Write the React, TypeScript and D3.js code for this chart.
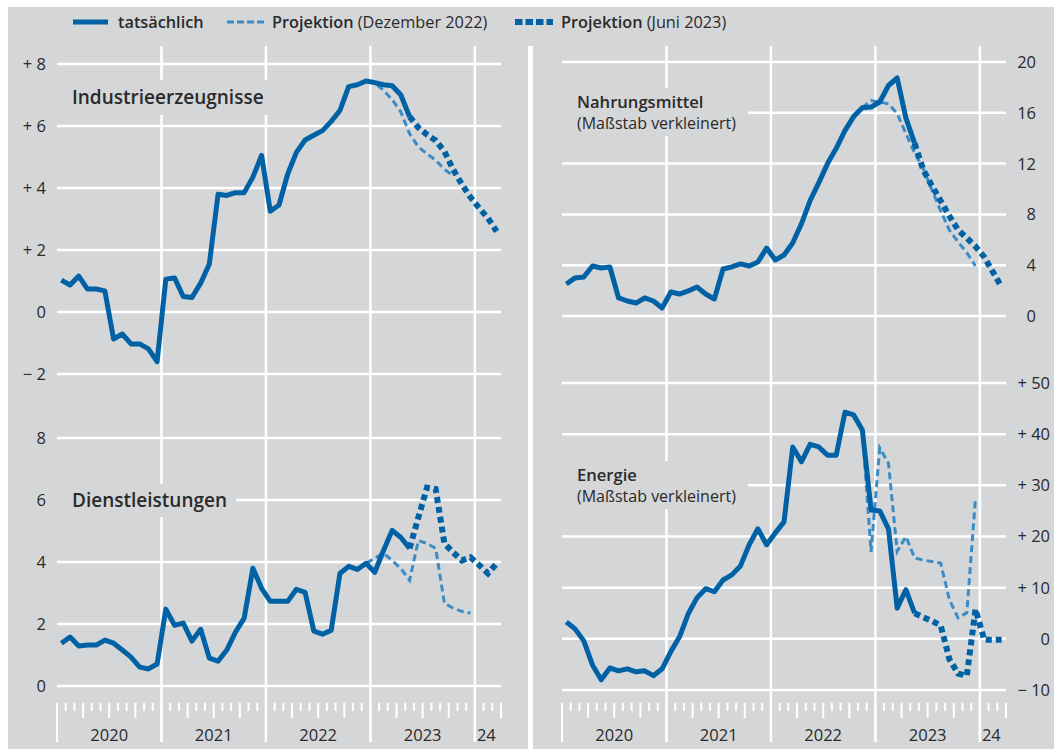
import React from "react";
import * as d3 from "d3";

// Monatswerte, Index 0 = Januar 2020, Veränderung gegenüber Vorjahr in %
const yearLabels = ["2020", "2021", "2022", "2023", "24"];

const industrieIst = [1.03, 0.87, 1.16, 0.74, 0.74, 0.68, -0.87, -0.71, -1.03, -1.03, -1.19, -1.6, 1.06, 1.1, 0.5, 0.47, 0.93, 1.55, 3.8, 3.76, 3.85, 3.85, 4.35, 5.05, 3.25, 3.45, 4.45, 5.15, 5.55, 5.7, 5.85, 6.15, 6.5, 7.27, 7.33, 7.45, 7.4, 7.33, 7.3, 7.0, 6.3];
const industrieDez22 = [7.33, 7.45, 7.4, 7.15, 6.85, 6.45, 5.75, 5.33, 5.1, 4.9, 4.6, 4.4];
const industrieJun23 = [6.3, 5.95, 5.72, 5.53, 5.18, 4.6, 4.12, 3.7, 3.35, 3.03, 2.6];

const dienstIst = [1.38, 1.58, 1.29, 1.32, 1.32, 1.48, 1.38, 1.16, 0.93, 0.61, 0.55, 0.71, 2.48, 1.96, 2.03, 1.45, 1.83, 0.9, 0.8, 1.16, 1.74, 2.19, 3.8, 3.15, 2.73, 2.73, 2.73, 3.12, 3.02, 1.77, 1.67, 1.8, 3.63, 3.86, 3.76, 3.96, 3.67, 4.37, 5.02, 4.79, 4.44];
const dienstDez22 = [3.76, 3.96, 4.12, 4.28, 4.05, 3.79, 3.41, 4.69, 4.6, 4.44, 2.67, 2.51, 2.41, 2.35];
const dienstJun23 = [4.44, 5.43, 6.4, 6.35, 4.6, 4.31, 4.05, 4.15, 3.9, 3.63, 3.95];

const nahrungIst = [2.52, 3.0, 3.07, 3.94, 3.78, 3.86, 1.42, 1.18, 1.02, 1.42, 1.18, 0.63, 1.89, 1.73, 1.97, 2.28, 1.73, 1.34, 3.7, 3.86, 4.1, 3.94, 4.25, 5.35, 4.41, 4.8, 5.75, 7.26, 9.09, 10.5, 12.0, 13.2, 14.6, 15.7, 16.4, 16.45, 16.85, 18.15, 18.74, 15.6, 13.6];
const nahrungDez22 = [16.4, 16.97, 16.85, 16.7, 15.94, 14.37, 12.85, 11.59, 9.91, 8.27, 6.76, 5.83, 4.98, 3.94];
const nahrungJun23 = [13.6, 11.5, 10.24, 9.06, 7.87, 6.77, 6.14, 5.47, 4.65, 3.46, 2.28];

const energieIst = [3.3, 1.95, -0.4, -5.1, -8.0, -5.7, -6.25, -5.86, -6.45, -6.25, -7.2, -5.86, -2.5, 0.4, 4.9, 8.0, 9.8, 9.2, 11.5, 12.5, 14.25, 18.4, 21.5, 18.4, 20.7, 22.85, 37.5, 34.6, 38.0, 37.5, 35.9, 35.9, 44.3, 43.75, 40.8, 25.2, 25.0, 21.5, 6.0, 9.6, 5.0];
const energieDez22 = [40.8, 17.0, 37.3, 34.3, 17.1, 20.0, 15.8, 15.4, 15.1, 14.8, 7.6, 4.1, 5.1, 27.6];
const energieJun23 = [5.0, 4.2, 3.5, 2.6, -4.0, -6.8, -7.2, 5.8, -0.2, -0.2, -0.2];

const startDez22 = 34; // Nov 2022
const startJun23 = 40; // Mai 2023

const FONT = "'Open Sans', 'Noto Sans', sans-serif";
const BG = "#d5d6d8";
const BLUE = "#0062a4";
const LIGHT = "#3b8cc5";
const INK = "#2a2a2a";

const xLeft = d3.scaleLinear().domain([0, 51]).range([57, 501]);
const xRight = d3.scaleLinear().domain([0, 51]).range([562, 1006]);

const signed = (v: number) => (v > 0 ? `+ ${v}` : v < 0 ? `\u2212 ${-v}` : "0");
const plain = (v: number) => `${v}`;

const panels = [
  {
    x: xLeft, y: d3.scaleLinear().domain([-2, 8]).range([374, 64]),
    ticks: [-2, 0, 2, 4, 6, 8], fmt: signed, labelX: 46,
    ist: industrieIst, dez: industrieDez22, jun: industrieJun23,
    title: "Industrieerzeugnisse", sub: null, tx: 72, ty: 97, box: [56, 80, 216, 35],
  },
  {
    x: xLeft, y: d3.scaleLinear().domain([0, 8]).range([686, 438]),
    ticks: [0, 2, 4, 6, 8], fmt: plain, labelX: 46,
    ist: dienstIst, dez: dienstDez22, jun: dienstJun23,
    title: "Dienstleistungen", sub: null, tx: 72, ty: 500, box: [56, 484, 180, 33],
  },
  {
    x: xRight, y: d3.scaleLinear().domain([0, 20]).range([316, 62]),
    ticks: [0, 4, 8, 12, 16, 20], fmt: plain, labelX: 1036,
    ist: nahrungIst, dez: nahrungDez22, jun: nahrungJun23,
    title: "Nahrungsmittel", sub: "(Maßstab verkleinert)", tx: 577, ty: 102, box: [562, 88, 186, 48],
  },
  {
    x: xRight, y: d3.scaleLinear().domain([-10, 50]).range([690, 383]),
    ticks: [-10, 0, 10, 20, 30, 40, 50], fmt: signed, labelX: 1050,
    ist: energieIst, dez: energieDez22, jun: energieJun23,
    title: "Energie", sub: "(Maßstab verkleinert)", tx: 577, ty: 475, box: [562, 461, 186, 48],
  },
];

function Panel({ p }: { p: (typeof panels)[number] }) {
  const line = (start: number) =>
    d3.line<number>()
      .x((_, i) => p.x(start + i + 0.5))
      .y((d) => p.y(d));
  const [x0, x1] = p.x.range();
  return (
    <g>
      {p.ticks.map((t) => (
        <g key={t}>
          <line x1={x0} x2={x1} y1={p.y(t)} y2={p.y(t)} stroke="#fff" strokeWidth={2.5} />
          <text x={p.labelX} y={p.y(t)} dy="0.36em" textAnchor="end" fontSize={16.5} fill={INK}>
            {p.fmt(t)}
          </text>
        </g>
      ))}
      <rect x={p.box[0]} y={p.box[1]} width={p.box[2]} height={p.box[3]} fill={BG} />
      <text x={p.tx} y={p.ty} dy="0.36em" fontSize={p.sub ? 16.6 : 19} fontWeight={600} fill={INK}>
        {p.title}
      </text>
      {p.sub && (
        <text x={p.tx} y={p.ty + 21} dy="0.36em" fontSize={16} fill={INK}>{p.sub}</text>
      )}
      <path d={line(startDez22)(p.dez) ?? ""} fill="none" stroke={LIGHT} strokeWidth={3}
        strokeDasharray="7 4" />
      <path d={line(0)(p.ist) ?? ""} fill="none" stroke={BLUE} strokeWidth={5}
        strokeLinejoin="round" />
      <path d={line(startJun23)(p.jun) ?? ""} fill="none" stroke={BLUE} strokeWidth={6}
        strokeDasharray="6 4" />
    </g>
  );
}

function TimeAxis({ x }: { x: d3.ScaleLinear<number, number> }) {
  const months = d3.range(0, 52);
  return (
    <g>
      {[12, 24, 36, 48].map((m) => (
        <line key={"g" + m} x1={x(m)} x2={x(m)} y1={46} y2={742} stroke="#fff" strokeWidth={2.5} />
      ))}
      {months.map((m) => {
        const y2 = m % 12 === 0 ? 742 : m % 3 === 0 ? 718 : 711;
        return <line key={m} x1={x(m)} x2={x(m)} y1={703} y2={y2} stroke="#fff" strokeWidth={2} />;
      })}
      {yearLabels.map((lab, i) =>
        i < 4 ? (
          <text key={lab} x={x(i * 12 + 6)} y={741} textAnchor="middle" fontSize={16.5} fill={INK}>{lab}</text>
        ) : (
          <text key={lab} x={x(48) + 2} y={741} fontSize={16.5} fill={INK}>{lab}</text>
        )
      )}
    </g>
  );
}

export default function App() {
  return (
    <svg width={1054} height={749} style={{ position: "absolute", left: 0, top: 0 }} fontFamily={FONT}>
      <rect x={0} y={0} width={1054} height={749} fill="#fff" />
      <rect x={8} y={7} width={1046} height={742} fill={BG} />
      <rect x={528} y={46} width={5} height={703} fill="#fff" />
      <TimeAxis x={xLeft} />
      <TimeAxis x={xRight} />
      {panels.map((p) => <Panel key={p.title} p={p} />)}
      <g fontSize={16.3} fill={INK}>
        <line x1={73} x2={108} y1={22} y2={22} stroke={BLUE} strokeWidth={5} />
        <text x={118} y={22} dy="0.36em" fontWeight={600}>tatsächlich</text>
        <line x1={227} x2={264} y1={22} y2={22} stroke={LIGHT} strokeWidth={3} strokeDasharray="7 3" />
        <text x={272} y={22} dy="0.36em">
          <tspan fontWeight={600}>Projektion</tspan> (Dezember 2022)
        </text>
        <line x1={515} x2={553} y1={22} y2={22} stroke={BLUE} strokeWidth={6} strokeDasharray="7.5 3" />
        <text x={561} y={22} dy="0.36em">
          <tspan fontWeight={600}>Projektion</tspan> (Juni 2023)
        </text>
      </g>
    </svg>
  );
}
